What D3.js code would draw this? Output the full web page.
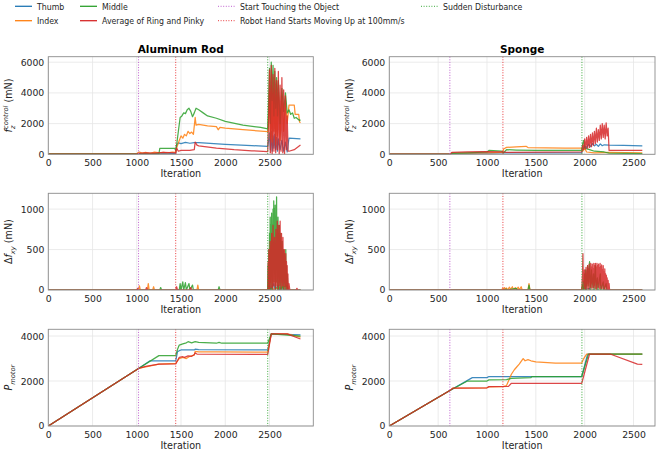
<!DOCTYPE html>
<html>
<head>
<meta charset="utf-8">
<script src="https://cdn.jsdelivr.net/npm/d3@7"></script>
<style>
  body { margin: 0; background: #fff; }
  svg { display: block; font-family: "DejaVu Sans", sans-serif; }
</style>
</head>
<body>
<script>
// tick labels and names
const xTicks = [0, 500, 1000, 1500, 2000, 2500];
const fzTicks = [0, 2000, 4000, 6000];
const dfTicks = [0, 500, 1000];
const pTicks = [0, 2000, 4000];
const fingers = ["Thumb", "Index", "Middle", "Average of Ring and Pinky"];
const eventNames = ["Start Touching the Object", "Robot Hand Starts Moving Up at 100mm/s", "Sudden Disturbance"];
const alEvents = [1020, 1440, 2480];
const spEvents = [620, 1163, 1972];

// Aluminum Rod, f_z control (mN)
const alFzThumb = [[0,20],[1000,20],[1020,40],[1440,40],[1450,600],[1470,750],[1500,700],[1550,780],[1600,720],[1650,760],[1700,760],[2000,650],[2300,570],[2480,520],[2490,900],[2500,1400],[2510,300],[2520,1500],[2530,200],[2540,1200],[2550,400],[2560,1300],[2570,300],[2580,1100],[2590,200],[2600,1000],[2620,300],[2640,900],[2660,200],[2680,800],[2700,150],[2720,1050],[2850,1000]];
const alFzIndex = [[0,20],[1000,20],[1010,100],[1030,150],[1060,80],[1100,120],[1150,60],[1200,140],[1260,90],[1300,130],[1350,100],[1400,150],[1440,120],[1450,400],[1480,900],[1500,1200],[1520,1050],[1540,1300],[1560,1200],[1580,1500],[1600,1350],[1620,1450],[1640,1300],[1660,2400],[1670,1900],[1700,1950],[1800,1850],[1900,1800],[1920,1600],[1940,1750],[2000,1700],[2200,1600],[2480,1480],[2490,2500],[2500,4000],[2510,1000],[2520,4500],[2530,800],[2540,5000],[2550,1500],[2560,4200],[2570,600],[2580,4600],[2590,1200],[2600,4000],[2620,900],[2640,3800],[2660,1500],[2680,3500],[2700,2000],[2720,3200],[2780,3200],[2790,2600],[2830,2600],[2840,2100],[2850,2050]];
const alFzMiddle = [[0,20],[1000,20],[1250,30],[1260,380],[1430,380],[1440,250],[1450,600],[1470,1500],[1490,2400],[1510,2500],[1530,2700],[1550,2650],[1570,2900],[1590,3000],[1610,2800],[1630,2450],[1650,2700],[1670,3000],[1700,2900],[1750,2700],[1800,2500],[1900,2350],[2000,2150],[2200,1900],[2400,1750],[2480,1650],[2490,3500],[2500,5600],[2510,2000],[2520,6000],[2530,3500],[2540,5800],[2550,2500],[2560,5400],[2570,3000],[2580,5000],[2590,2500],[2600,4800],[2620,2000],[2640,4300],[2660,2800],[2680,4000],[2700,2700],[2720,2900],[2740,2600],[2760,2700],[2780,2350],[2800,2400],[2820,2300],[2840,2200],[2850,2250]];
const alFzRing = [[0,10],[1000,10],[1020,60],[1100,100],[1200,80],[1300,120],[1440,100],[1450,400],[1470,200],[1500,250],[1600,250],[1650,300],[1660,800],[1680,600],[1700,550],[1900,400],[2100,300],[2300,230],[2480,180],[2490,2500],[2500,5500],[2510,100],[2520,5800],[2530,0],[2540,5200],[2550,200],[2560,5600],[2570,100],[2580,4800],[2590,300],[2600,5400],[2610,0],[2620,4500],[2630,200],[2640,5000],[2650,100],[2660,4200],[2670,0],[2680,3800],[2690,300],[2700,2500],[2710,200],[2720,200],[2780,300],[2850,600]];

// Sponge, f_z control (mN)
const spFzThumb = [[0,10],[620,10],[640,60],[1000,80],[1160,100],[1970,100],[1980,300],[2000,500],[2020,450],[2040,650],[2060,500],[2080,700],[2100,550],[2120,650],[2140,520],[2160,680],[2180,560],[2200,620],[2250,600],[2400,580],[2590,550]];
const spFzIndex = [[0,10],[620,10],[640,80],[1000,100],[1160,120],[1170,350],[1200,450],[1300,480],[1400,520],[1420,440],[1600,420],[1800,400],[1970,400],[1980,200],[2000,400],[2020,150],[2100,100],[2250,120],[2590,100]];
const spFzMiddle = [[0,10],[620,10],[640,60],[800,100],[1000,150],[1020,250],[1150,200],[1170,100],[1200,300],[1300,280],[1500,250],[1970,250],[1980,700],[1990,900],[2000,400],[2050,300],[2100,200],[2200,150],[2250,80],[2590,50]];
const spFzRing = [[0,10],[620,10],[640,120],[800,150],[1000,180],[1160,150],[1200,130],[1970,150],[1980,600],[1990,300],[2000,1000],[2010,350],[2020,1100],[2030,400],[2040,1200],[2050,450],[2060,1300],[2070,500],[2080,1400],[2090,600],[2100,1500],[2110,700],[2120,1700],[2130,800],[2140,1600],[2150,900],[2160,1900],[2170,1000],[2180,2000],[2190,1100],[2200,1900],[2210,1000],[2220,2050],[2230,1200],[2240,1700],[2250,250],[2590,250]];

// Aluminum Rod, delta f_xy (mN)
const alDfThumb = [[0,0],[2480,0],[2500,50],[2510,0],[2550,80],[2560,0],[2600,60],[2610,0],[2650,40],[2660,0],[2850,0]];
const alDfIndex = [[0,0],[1020,0],[1030,50],[1040,0],[1120,0],[1130,80],[1140,0],[1180,0],[1190,40],[1200,0],[1680,0],[1690,60],[1700,0],[2480,0],[2490,150],[2500,0],[2700,50],[2710,0],[2850,0]];
const alDfMiddle = [[0,0],[1260,0],[1270,30],[1280,0],[1480,0],[1490,80],[1500,0],[1520,100],[1530,0],[1550,90],[1560,0],[1590,80],[1600,0],[1630,60],[1640,0],[1920,0],[1930,40],[1940,0],[2480,0],[2484,300],[2488,0],[2492,500],[2496,50],[2500,700],[2504,0],[2508,900],[2512,100],[2516,800],[2520,0],[2524,950],[2528,200],[2532,700],[2536,0],[2540,1000],[2544,300],[2548,1100],[2552,100],[2556,1000],[2560,200],[2564,1050],[2568,0],[2572,900],[2576,300],[2580,1150],[2584,100],[2588,800],[2592,0],[2596,900],[2600,200],[2604,700],[2608,0],[2612,800],[2616,100],[2620,600],[2624,0],[2628,700],[2632,200],[2636,500],[2640,0],[2644,600],[2648,100],[2652,400],[2656,0],[2660,500],[2664,0],[2668,450],[2672,100],[2676,350],[2680,0],[2684,500],[2688,0],[2692,300],[2696,0],[2700,200],[2710,0],[2850,0]];
const alDfRing = [[0,0],[1000,0],[1010,20],[1020,0],[1100,0],[1110,30],[1120,0],[1440,0],[1450,40],[1460,0],[1600,0],[1610,30],[1620,0],[2480,0],[2484,350],[2488,20],[2492,500],[2496,50],[2500,300],[2504,0],[2508,600],[2512,100],[2516,450],[2520,30],[2524,700],[2528,150],[2532,500],[2536,0],[2540,800],[2544,100],[2548,550],[2552,50],[2556,650],[2560,200],[2564,500],[2568,0],[2572,750],[2576,100],[2580,600],[2584,50],[2588,850],[2592,150],[2596,550],[2600,0],[2604,800],[2608,100],[2612,600],[2616,50],[2620,850],[2624,150],[2628,500],[2632,0],[2636,700],[2640,100],[2644,550],[2648,50],[2652,650],[2656,200],[2660,450],[2664,0],[2668,500],[2672,100],[2676,400],[2680,50],[2684,450],[2688,0],[2692,350],[2696,50],[2700,300],[2704,0],[2708,200],[2712,0],[2720,80],[2730,0],[2800,0],[2810,20],[2820,0],[2850,0]];

// Sponge, delta f_xy (mN)
const spDfThumb = [[0,0],[1970,0],[1990,30],[2000,0],[2050,20],[2060,0],[2590,0]];
const spDfIndex = [[0,0],[1150,0],[1160,20],[1170,0],[1180,30],[1190,5],[1200,25],[1210,0],[1230,35],[1240,5],[1260,40],[1270,0],[1290,30],[1300,5],[1320,35],[1330,0],[1350,40],[1360,0],[1420,0],[1430,80],[1440,0],[1970,0],[1980,60],[1990,0],[2590,0]];
const spDfMiddle = [[0,0],[1150,0],[1200,10],[1210,0],[1300,20],[1310,0],[1420,0],[1430,60],[1440,0],[1970,0],[1985,100],[1990,0],[2000,200],[2005,20],[2010,250],[2015,0],[2030,300],[2035,50],[2050,350],[2055,0],[2070,250],[2075,30],[2090,200],[2095,0],[2110,300],[2115,20],[2130,150],[2135,0],[2160,200],[2165,0],[2190,100],[2195,0],[2220,80],[2225,0],[2590,0]];
const spDfRing = [[0,0],[1160,0],[1170,10],[1180,0],[1970,0],[1978,200],[1982,450],[1986,100],[1990,150],[1994,20],[1998,250],[2002,50],[2006,200],[2010,0],[2014,280],[2018,60],[2022,230],[2026,20],[2030,300],[2034,80],[2038,260],[2042,10],[2046,320],[2050,100],[2054,250],[2058,30],[2062,330],[2066,80],[2070,280],[2074,20],[2078,320],[2082,100],[2086,260],[2090,30],[2094,330],[2098,60],[2102,300],[2106,20],[2110,330],[2114,100],[2118,280],[2122,10],[2126,330],[2130,80],[2134,300],[2138,30],[2142,320],[2146,90],[2150,270],[2154,20],[2158,330],[2162,60],[2166,290],[2170,20],[2174,310],[2178,80],[2182,250],[2186,20],[2190,300],[2194,60],[2198,220],[2202,10],[2206,260],[2210,50],[2214,200],[2218,0],[2222,180],[2226,40],[2230,150],[2234,0],[2240,120],[2245,0],[2250,80],[2255,0],[2590,0]];

// Aluminum Rod, P_motor
const alPThumb = [[0,0],[1020,2560],[1150,2900],[1440,2900],[1460,3300],[1480,3350],[1500,3380],[1650,3380],[1660,3420],[1700,3400],[2480,3380],[2520,4100],[2850,4050]];
const alPIndex = [[0,0],[1020,2560],[1250,2750],[1440,2780],[1450,2850],[1480,3000],[1520,3050],[1560,3000],[1600,3100],[1650,3150],[1660,3320],[1700,3300],[1900,3300],[2480,3280],[2520,4100],[2700,4100],[2850,3950]];
const alPMiddle = [[0,0],[1020,2560],[1250,3130],[1440,3130],[1460,3400],[1480,3600],[1520,3650],[1560,3700],[1580,3750],[1620,3700],[1660,3750],[1700,3720],[1900,3680],[1930,3720],[1960,3680],[2480,3680],[2520,4100],[2850,4000]];
const alPRing = [[0,0],[1020,2560],[1100,2650],[1250,2750],[1440,2760],[1460,2900],[1480,3050],[1520,3080],[1540,3050],[1580,3120],[1620,3100],[1650,3180],[1660,3250],[1680,3200],[2480,3180],[2520,4100],[2700,4100],[2850,3870]];

// Sponge, P_motor
const spPThumb = [[0,0],[620,1580],[850,2150],[1000,2150],[1020,2200],[1970,2200],[2030,3200],[2590,3200]];
const spPIndex = [[0,0],[620,1580],[650,1680],[1000,1700],[1020,1740],[1163,1750],[1200,1800],[1220,2000],[1250,2300],[1280,2500],[1300,2600],[1330,2750],[1370,3000],[1390,2900],[1420,2950],[1450,2900],[1500,2850],[1700,2800],[1970,2800],[1990,3000],[2020,3200],[2590,3200]];
const spPMiddle = [[0,0],[620,1580],[800,2000],[1000,2000],[1020,2050],[1200,2060],[1250,2120],[1450,2150],[1460,2200],[1970,2200],[2040,3200],[2590,3200]];
const spPRing = [[0,0],[620,1580],[650,1680],[1000,1700],[1020,1750],[1220,1760],[1250,1900],[1970,1900],[2050,3200],[2260,3200],[2540,2750],[2590,2740]];

const width = 659, height = 453;
const fingerColors = ["#1f77b4", "#ff7f0e", "#2ca02c", "#d62728"];
const eventColors = ["#bf5fcf", "#e8383b", "#3aa83a"];
const textColor = "#262626";

const columns = [
  { title: "Aluminum Rod", x0: 48.3, x1: 313.3, xMax: 2995, events: alEvents,
    data: [[alFzThumb, alFzIndex, alFzMiddle, alFzRing],
           [alDfThumb, alDfIndex, alDfMiddle, alDfRing],
           [alPThumb, alPIndex, alPMiddle, alPRing]] },
  { title: "Sponge", x0: 389.3, x1: 655, xMax: 2720, events: spEvents,
    data: [[spFzThumb, spFzIndex, spFzMiddle, spFzRing],
           [spDfThumb, spDfIndex, spDfMiddle, spDfRing],
           [spPThumb, spPIndex, spPMiddle, spPRing]] }
];
const rows = [
  { y0: 56.7, y1: 154.3, yMax: 6360, ticks: fzTicks },
  { y0: 193.3, y1: 290, yMax: 1195, ticks: dfTicks },
  { y0: 329.3, y1: 426, yMax: 4300, ticks: pTicks }
];

const svg = d3.select("body").append("svg")
  .attr("width", width)
  .attr("height", height)
  .attr("viewBox", [0, 0, width, height]);

// y labels with math-ish formatting
function yLabel(g, r, cx, cy) {
  const t = g.append("text")
    .attr("transform", `translate(${cx},${cy}) rotate(-90)`)
    .attr("text-anchor", "middle")
    .attr("fill", textColor)
    .style("font-size", "9.6px");
  if (r === 0) {
    t.append("tspan").attr("font-style", "italic").text("f");
    t.append("tspan").attr("font-style", "italic").style("font-size", "6.7px").attr("dy", 2.2).text("z");
    t.append("tspan").attr("font-style", "italic").style("font-size", "6.7px").attr("dx", -3.4).attr("dy", -6.6).text("control");
    t.append("tspan").attr("dy", 4.4).text(" (mN)");
  } else if (r === 1) {
    t.append("tspan").text("\u0394");
    t.append("tspan").attr("font-style", "italic").text("f");
    t.append("tspan").attr("font-style", "italic").style("font-size", "6.7px").attr("dy", 2.2).text("xy");
    t.append("tspan").attr("dy", -2.2).text(" (mN)");
  } else {
    t.append("tspan").attr("font-style", "italic").text("P");
    t.append("tspan").attr("font-style", "italic").style("font-size", "6.7px").attr("dy", 2.2).text("motor");
  }
}

columns.forEach((col, ci) => {
  const x = d3.scaleLinear().domain([0, col.xMax]).range([col.x0, col.x1]);

  rows.forEach((row, ri) => {
    const y = d3.scaleLinear().domain([0, row.yMax]).range([row.y1, row.y0]);
    const g = svg.append("g");
    const clipId = `clip-${ci}-${ri}`;
    g.append("clipPath").attr("id", clipId)
      .append("rect")
      .attr("x", col.x0).attr("y", row.y0)
      .attr("width", col.x1 - col.x0).attr("height", row.y1 - row.y0);

    // grid
    g.append("g").selectAll("line").data(xTicks).join("line")
      .attr("x1", d => x(d)).attr("x2", d => x(d))
      .attr("y1", row.y0).attr("y2", row.y1)
      .attr("stroke", "#e6e6e6").attr("stroke-width", 0.8);
    g.append("g").selectAll("line").data(row.ticks).join("line")
      .attr("x1", col.x0).attr("x2", col.x1)
      .attr("y1", d => y(d)).attr("y2", d => y(d))
      .attr("stroke", "#e6e6e6").attr("stroke-width", 0.8);

    // finger lines
    const line = d3.line().x(d => x(d[0])).y(d => y(d[1]));
    g.append("g").attr("clip-path", `url(#${clipId})`)
      .selectAll("path").data(col.data[ri]).join("path")
      .attr("d", line)
      .attr("fill", "none")
      .attr("stroke", (d, i) => fingerColors[i])
      .attr("stroke-width", 1.25)
      .attr("stroke-opacity", 0.85)
      .attr("stroke-linejoin", "round");

    // event markers
    g.append("g").selectAll("line").data(col.events).join("line")
      .attr("x1", d => x(d)).attr("x2", d => x(d))
      .attr("y1", row.y0).attr("y2", row.y1)
      .attr("stroke", (d, i) => eventColors[i])
      .attr("stroke-width", 1)
      .attr("stroke-dasharray", "1,1.6");

    // spines
    g.append("rect")
      .attr("x", col.x0).attr("y", row.y0)
      .attr("width", col.x1 - col.x0).attr("height", row.y1 - row.y0)
      .attr("fill", "none").attr("stroke", "#8c8c8c").attr("stroke-width", 0.9);

    // axes
    g.append("g")
      .attr("transform", `translate(0,${row.y1})`)
      .call(d3.axisBottom(x).tickValues(xTicks).tickFormat(d3.format("d")).tickSize(0).tickPadding(5))
      .call(a => a.select(".domain").remove())
      .call(a => a.selectAll("text").attr("fill", textColor)
        .style("font-size", "9.3px").style("font-family", "DejaVu Sans"));
    g.append("g")
      .attr("transform", `translate(${col.x0},0)`)
      .call(d3.axisLeft(y).tickValues(row.ticks).tickFormat(d3.format("d")).tickSize(0).tickPadding(4))
      .call(a => a.select(".domain").remove())
      .call(a => a.selectAll("text").attr("fill", textColor)
        .style("font-size", "9.3px").style("font-family", "DejaVu Sans"));

    g.append("text")
      .attr("x", (col.x0 + col.x1) / 2)
      .attr("y", row.y1 + 23)
      .attr("text-anchor", "middle")
      .attr("fill", textColor)
      .style("font-size", "9.6px")
      .text("Iteration");

    yLabel(g, ri, col.x0 - 36, (row.y0 + row.y1) / 2);

    if (ri === 0) {
      g.append("text")
        .attr("x", (col.x0 + col.x1) / 2)
        .attr("y", row.y0 - 4)
        .attr("text-anchor", "middle")
        .attr("fill", "#000")
        .style("font-size", "10.5px")
        .style("font-weight", "bold")
        .text(col.title);
    }
  });
});

// legend
const legendItems = [
  { label: fingers[0], color: fingerColors[0], x: 15, y: 6.3, dotted: false },
  { label: fingers[1], color: fingerColors[1], x: 15, y: 20.7, dotted: false },
  { label: fingers[2], color: fingerColors[2], x: 80, y: 6.3, dotted: false },
  { label: fingers[3], color: fingerColors[3], x: 80, y: 20.7, dotted: false },
  { label: eventNames[0], color: eventColors[0], x: 218, y: 6.3, dotted: true },
  { label: eventNames[1], color: eventColors[1], x: 218, y: 20.7, dotted: true },
  { label: eventNames[2], color: eventColors[2], x: 421, y: 6.3, dotted: true }
];
const legend = svg.append("g").selectAll("g").data(legendItems).join("g")
  .attr("transform", d => `translate(${d.x},${d.y})`);
legend.append("line")
  .attr("x1", 0).attr("x2", 17)
  .attr("stroke", d => d.color)
  .attr("stroke-width", d => d.dotted ? 1 : 1.3)
  .attr("stroke-dasharray", d => d.dotted ? "1,1.6" : null);
// legend text is a bit narrow in the original, so squeeze it horizontally
legend.append("text")
  .attr("transform", "translate(22,3.3) scale(0.85,1)")
  .attr("fill", textColor)
  .style("font-size", "9.2px")
  .text(d => d.label);
</script>
</body>
</html>
